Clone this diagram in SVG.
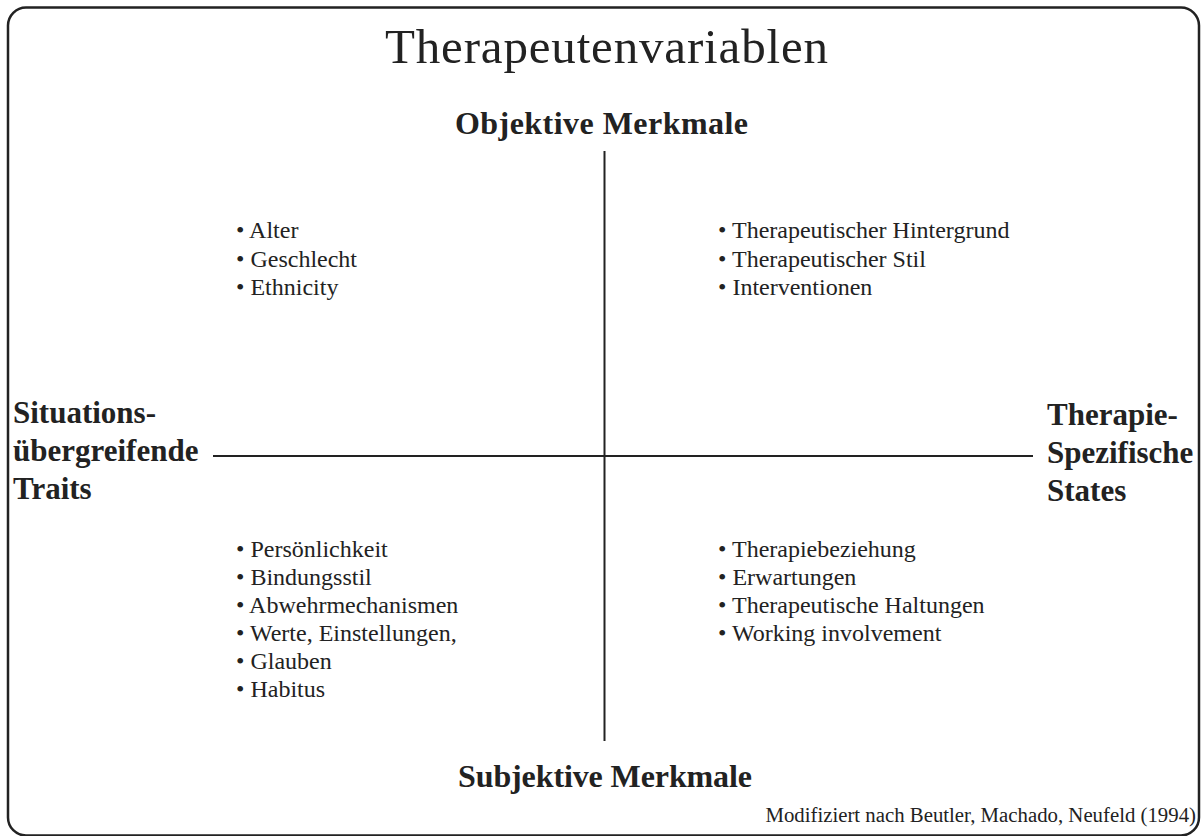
<svg xmlns="http://www.w3.org/2000/svg" width="1204" height="836" viewBox="0 0 1204 836">
  <style>
    .serif { font-family: "Liberation Serif", "Times New Roman", serif; fill: #222; }
    .title { font-size: 49px; }
    .axis { font-size: 31px; font-weight: bold; }
    .head { font-size: 32px; font-weight: bold; }
    .item { font-size: 24px; }
    .foot { font-size: 20.8px; }
    .line { stroke: #222; stroke-width: 2; fill: none; }
  </style>
  <rect x="8" y="7.5" width="1191" height="828" rx="18" ry="18" fill="#fff" stroke="#222" stroke-width="2.5"/>
  <g id="title">
    <text class="serif title" x="606.5" y="63" text-anchor="middle" textLength="443" lengthAdjust="spacing">Therapeutenvariablen</text>
  </g>
  <g id="connectors">
    <line class="line" x1="604.5" y1="151" x2="604.5" y2="741"/>
    <line class="line" x1="213" y1="456" x2="1033" y2="456"/>
  </g>
  <g id="objektive">
    <text class="serif head" x="601.5" y="134" text-anchor="middle" textLength="293" lengthAdjust="spacing">Objektive Merkmale</text>
  </g>
  <g id="subjektive">
    <text class="serif head" x="605" y="787" text-anchor="middle" textLength="294" lengthAdjust="spacing">Subjektive Merkmale</text>
  </g>
  <g id="traits">
    <text class="serif axis" x="13" y="423">Situations-</text>
    <text class="serif axis" x="13" y="461">übergreifende</text>
    <text class="serif axis" x="13" y="499">Traits</text>
  </g>
  <g id="states">
    <text class="serif axis" x="1047" y="425">Therapie-</text>
    <text class="serif axis" x="1047" y="463">Spezifische</text>
    <text class="serif axis" x="1047" y="501">States</text>
  </g>
  <g id="quadrant-top-left">
    <text class="serif item" x="236" y="238">• Alter</text>
    <text class="serif item" x="236" y="267">• Geschlecht</text>
    <text class="serif item" x="236" y="295">• Ethnicity</text>
  </g>
  <g id="quadrant-top-right">
    <text class="serif item" x="718" y="238">• Therapeutischer Hintergrund</text>
    <text class="serif item" x="718" y="267">• Therapeutischer Stil</text>
    <text class="serif item" x="718" y="295">• Interventionen</text>
  </g>
  <g id="quadrant-bottom-left">
    <text class="serif item" x="236" y="557">• Persönlichkeit</text>
    <text class="serif item" x="236" y="585">• Bindungsstil</text>
    <text class="serif item" x="236" y="613">• Abwehrmechanismen</text>
    <text class="serif item" x="236" y="641">• Werte, Einstellungen,</text>
    <text class="serif item" x="236" y="669">• Glauben</text>
    <text class="serif item" x="236" y="697">• Habitus</text>
  </g>
  <g id="quadrant-bottom-right">
    <text class="serif item" x="718" y="557">• Therapiebeziehung</text>
    <text class="serif item" x="718" y="585">• Erwartungen</text>
    <text class="serif item" x="718" y="613">• Therapeutische Haltungen</text>
    <text class="serif item" x="718" y="641">• Working involvement</text>
  </g>
  <g id="source">
    <text class="serif foot" x="1196" y="822" text-anchor="end">Modifiziert nach Beutler, Machado, Neufeld (1994)</text>
  </g>
</svg>
